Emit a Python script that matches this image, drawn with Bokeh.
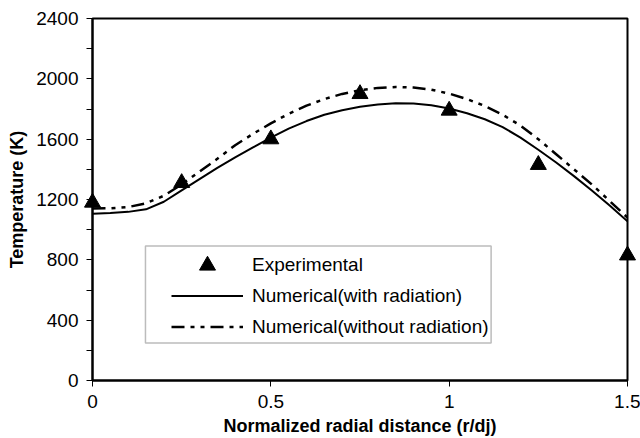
from bokeh.plotting import figure
from bokeh.models import (FixedTicker, Legend, LegendItem, BoxAnnotation,
                          Range1d)
from bokeh.embed import file_html
from bokeh.resources import INLINE

# Measured temperatures across the jet
exp_r = [0.0, 0.25, 0.5, 0.75, 1.0, 1.25, 1.5]
exp_T = [1180, 1310, 1600, 1900, 1790, 1430, 830]

# Numerical profiles
num_r = [0.0, 0.05, 0.1, 0.15, 0.2, 0.25, 0.3, 0.35, 0.4, 0.45, 0.5,
         0.55, 0.6, 0.65, 0.7, 0.75, 0.8, 0.85, 0.9, 0.95, 1.0,
         1.05, 1.1, 1.15, 1.2, 1.25, 1.3, 1.35, 1.4, 1.45, 1.5]
T_with_rad = [1105, 1110, 1118, 1135, 1185, 1260, 1335, 1410, 1480, 1545, 1610,
              1670, 1720, 1762, 1792, 1815, 1830, 1838, 1836, 1825, 1803,
              1772, 1732, 1680, 1610, 1530, 1445, 1355, 1260, 1160, 1055]
T_without_rad = [1140, 1142, 1150, 1175, 1225, 1300, 1385, 1470, 1560, 1635, 1705,
                 1768, 1822, 1866, 1900, 1925, 1940, 1946, 1942, 1928, 1902,
                 1866, 1820, 1762, 1690, 1600, 1500, 1400, 1300, 1190, 1080]

x_ticks = [0, 0.5, 1, 1.5]
x_tick_labels = ["0", "0.5", "1", "1.5"]
y_ticks = [0, 400, 800, 1200, 1600, 2000, 2400]
y_minor = [200, 600, 1000, 1400, 1800, 2200]

FONT = "Liberation Sans"

p = figure(width=640, height=438, output_backend="svg", toolbar_location=None,
           x_range=Range1d(0, 1.5), y_range=Range1d(0, 2400),
           min_border_left=92, min_border_right=13,
           min_border_top=18, min_border_bottom=57)
p.frame_width = 535
p.frame_height = 362
p.background_fill_color = "white"
p.border_fill_color = "white"
p.outline_line_color = "black"
p.outline_line_width = 2
p.xgrid.visible = False
p.ygrid.visible = False

for ax in (p.xaxis[0], p.yaxis[0]):
    ax.axis_line_width = 2
    ax.axis_line_color = "black"
    ax.major_tick_in = 0
    ax.major_tick_out = 6
    ax.major_tick_line_width = 1
    ax.major_tick_line_color = "black"
    ax.major_label_text_font = FONT
    ax.major_label_text_font_size = "19px"
    ax.major_label_text_color = "black"
    ax.axis_label_text_font = FONT
    ax.axis_label_text_font_size = "18px"
    ax.axis_label_text_font_style = "bold"
    ax.axis_label_text_color = "black"

p.xaxis.ticker = FixedTicker(ticks=x_ticks)
p.xaxis.major_label_overrides = dict(zip(x_ticks, x_tick_labels))
p.xaxis.minor_tick_line_color = None
p.xaxis.axis_label = "Normalized radial distance (r/dj)"
p.xaxis.axis_label_standoff = 5
p.xaxis.major_label_standoff = 8

p.yaxis.ticker = FixedTicker(ticks=y_ticks, minor_ticks=y_minor)
p.yaxis.minor_tick_in = 0
p.yaxis.minor_tick_out = 6
p.yaxis.minor_tick_line_color = "black"
p.yaxis.axis_label = "Temperature (K)"
p.yaxis.axis_label_standoff = 6
p.yaxis.major_label_standoff = 8

r_with = p.line(num_r, T_with_rad, line_color="black", line_width=2)
r_without = p.line(num_r, T_without_rad, line_color="black", line_width=2.5,
                   line_dash="13 6 4 6 4 6")
r_exp = p.scatter(exp_r, exp_T, marker="triangle", size=16,
                  fill_color="black", line_color="black", level="overlay")

# legend frame (data coordinates)
box = BoxAnnotation(left=0.1485, right=1.1176, bottom=248.6, top=891.7,
                    fill_color="white", fill_alpha=1.0,
                    line_color="#222222", line_width=1.5)
p.add_layout(box)

legend_style = dict(glyph_width=72, label_standoff=9, padding=0, spacing=0,
                    margin=0, label_text_font=FONT, label_text_font_size="19px",
                    label_text_color="black", border_line_color=None,
                    background_fill_alpha=0)

# marker entry uses a taller row so the triangle keeps its size
legend_marker = Legend(items=[LegendItem(label="Experimental", renderers=[r_exp])],
                       location=(79, 95), glyph_height=40, label_height=40,
                       **legend_style)
legend_lines = Legend(items=[
    LegendItem(label="Numerical(with radiation)", renderers=[r_with]),
    LegendItem(label="Numerical(without radiation)", renderers=[r_without]),
], location=(79, 38), glyph_height=31, label_height=31, **legend_style)
p.add_layout(legend_marker)
p.add_layout(legend_lines)

open("out.html", "w").write(file_html(p, INLINE))
